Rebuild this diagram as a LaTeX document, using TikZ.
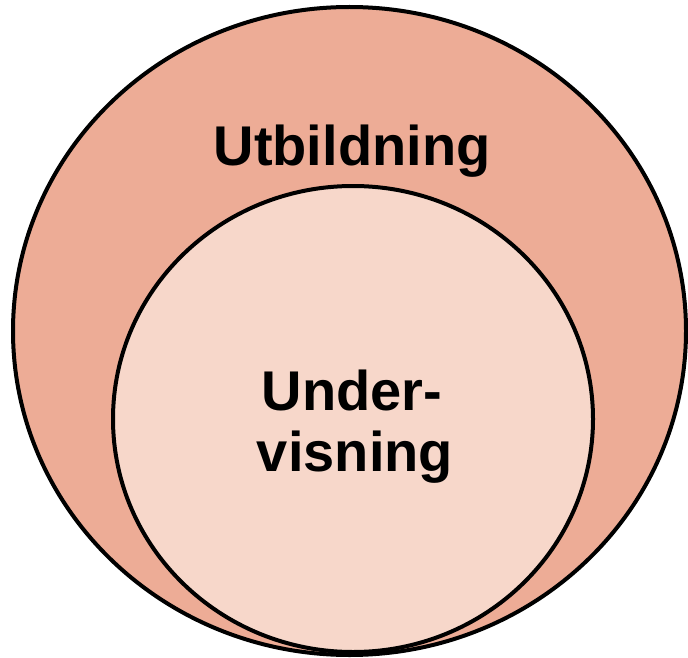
\documentclass[tikz,border=0pt]{standalone}
\usepackage{fontspec}
\setmainfont{Liberation Sans}
\definecolor{outerfill}{RGB}{237,172,150}
\definecolor{innerfill}{RGB}{247,215,202}
\begin{document}
\begin{tikzpicture}[x=1pt,y=-1pt,
  ring/.style={draw=black,line width=4pt},
  lbl/.style={font=\bfseries\fontsize{56}{62}\selectfont,align=center,inner sep=0pt}]
\useasboundingbox (0,0) rectangle (688,658);
\draw[ring,fill=outerfill] (349.5,331) ellipse [x radius=336.5,y radius=324];
\draw[ring,fill=innerfill] (353,419) ellipse [x radius=240,y radius=233];
\node[lbl,anchor=base] (utb) at (352,165) {Utbildning};
\node[lbl,anchor=base] (und) at (352,410) {Under-};
\node[lbl,anchor=base] (vis) at (355,471) {visning};
\end{tikzpicture}
\end{document}
